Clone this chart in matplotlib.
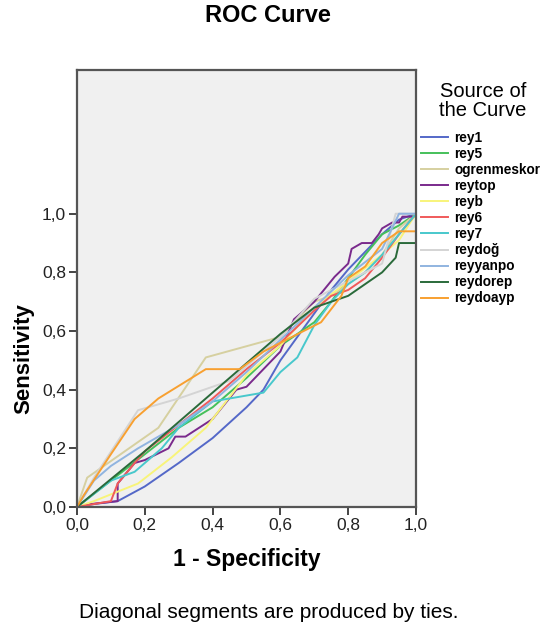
import matplotlib
matplotlib.use("Agg")
import matplotlib.pyplot as plt
from matplotlib.ticker import FuncFormatter

plt.rcParams['font.family'] = ['Liberation Sans', 'DejaVu Sans']

names = ["rey1", "rey5", "ogrenmeskor", "reytop", "reyb", "rey6", "rey7",
         "reydoğ", "reyyanpo", "reydorep", "reydoayp"]
colors = ["#5468c8", "#45c05a", "#d6d0a0", "#7a2a8c", "#f8f47a", "#f05a5a",
          "#48c8cc", "#d4d4d4", "#90b4e0", "#2a6a3a", "#f8a030"]

rey1_x = [0, 0.05, 0.12, 0.2, 0.3, 0.4, 0.5, 0.55, 0.6, 0.65, 0.7, 0.75, 0.8, 0.85, 0.9, 0.95, 1.0]
rey1_y = [0, 0.01, 0.02, 0.07, 0.15, 0.235, 0.34, 0.40, 0.50, 0.58, 0.66, 0.74, 0.81, 0.87, 0.93, 0.98, 1.0]

rey5_x = [0, 0.1, 0.2, 0.3, 0.4, 0.5, 0.6, 0.7, 0.75, 0.8, 0.85, 0.9, 0.95, 1.0]
rey5_y = [0, 0.09, 0.18, 0.27, 0.34, 0.44, 0.55, 0.63, 0.70, 0.78, 0.86, 0.93, 0.96, 1.0]

ogren_x = [0, 0.03, 0.24, 0.38, 0.6, 0.7, 0.75, 0.85, 0.9, 0.95, 1.0]
ogren_y = [0, 0.10, 0.27, 0.51, 0.58, 0.70, 0.72, 0.80, 0.86, 0.95, 1.0]

reytop_x = [0, 0.04, 0.12, 0.12, 0.17, 0.2, 0.27, 0.29, 0.32, 0.4, 0.47, 0.5, 0.6, 0.64, 0.7, 0.76,
            0.8, 0.81, 0.84, 0.87, 0.89, 0.9, 0.93, 0.95, 0.96, 1.0]
reytop_y = [0, 0.01, 0.02, 0.08, 0.15, 0.16, 0.20, 0.24, 0.24, 0.30, 0.40, 0.41, 0.53, 0.64, 0.70, 0.785,
            0.83, 0.88, 0.90, 0.90, 0.93, 0.95, 0.97, 0.97, 0.99, 0.99]

reyb_x = [0, 0.05, 0.18, 0.28, 0.38, 0.5, 0.6, 0.7, 0.8, 0.9, 0.95, 1.0]
reyb_y = [0, 0.02, 0.08, 0.17, 0.27, 0.45, 0.55, 0.68, 0.77, 0.86, 0.91, 1.0]

rey6_x = [0, 0.05, 0.1, 0.12, 0.17, 0.2, 0.3, 0.4, 0.5, 0.6, 0.7, 0.75, 0.8, 0.85, 0.9, 0.95, 1.0]
rey6_y = [0, 0.01, 0.02, 0.08, 0.15, 0.19, 0.28, 0.37, 0.47, 0.56, 0.67, 0.72, 0.74, 0.78, 0.85, 0.93, 1.0]

rey7_x = [0, 0.1, 0.17, 0.25, 0.3, 0.4, 0.5, 0.55, 0.6, 0.65, 0.7, 0.75, 0.8, 0.85, 0.9, 0.95, 1.0]
rey7_y = [0, 0.09, 0.12, 0.20, 0.27, 0.36, 0.38, 0.39, 0.46, 0.51, 0.62, 0.70, 0.76, 0.80, 0.86, 0.93, 1.0]

reydog_x = [0, 0.05, 0.18, 0.3, 0.45, 0.5, 0.6, 0.7, 0.8, 0.9, 0.94, 1.0]
reydog_y = [0, 0.10, 0.33, 0.37, 0.43, 0.48, 0.58, 0.71, 0.77, 0.83, 1.0, 1.0]

reyyanpo_x = [0, 0.05, 0.1, 0.18, 0.3, 0.4, 0.5, 0.6, 0.7, 0.8, 0.9, 0.95, 1.0]
reyyanpo_y = [0, 0.09, 0.14, 0.20, 0.28, 0.36, 0.46, 0.57, 0.68, 0.79, 0.88, 1.0, 1.0]

reydorep_x = [0, 0.2, 0.4, 0.6, 0.7, 0.8, 0.9, 0.94, 0.95, 1.0, 1.0]
reydorep_y = [0, 0.19, 0.39, 0.59, 0.68, 0.72, 0.80, 0.85, 0.90, 0.90, 1.0]

reydoayp_x = [0, 0.02, 0.1, 0.17, 0.24, 0.38, 0.48, 0.55, 0.6, 0.72, 0.78, 0.8, 0.85, 0.9, 0.95, 1.0, 1.0]
reydoayp_y = [0, 0.04, 0.18, 0.30, 0.37, 0.47, 0.47, 0.53, 0.56, 0.63, 0.72, 0.78, 0.82, 0.90, 0.94, 0.94, 1.0]

series = [(rey1_x, rey1_y), (rey5_x, rey5_y), (ogren_x, ogren_y), (reytop_x, reytop_y),
          (reyb_x, reyb_y), (rey6_x, rey6_y), (rey7_x, rey7_y), (reydog_x, reydog_y),
          (reyyanpo_x, reyyanpo_y), (reydorep_x, reydorep_y), (reydoayp_x, reydoayp_y)]

xticks = [0, 0.2, 0.4, 0.6, 0.8, 1.0]
yticks = [0, 0.2, 0.4, 0.6, 0.8, 1.0]

fig = plt.figure(figsize=(5.44, 6.32), dpi=100)
ax = fig.add_axes([77/544, 1-507/632, (416-77)/544, (507-70)/632])
ax.set_facecolor("#f0f0f0")

lines = []
for (x, y), c, n in zip(series, colors, names):
    l, = ax.plot(x, y, color=c, lw=1.4, label=n)
    lines.append(l)

ax.set_xlim(0, 1.0)
ax.set_ylim(0, 1.49)
ax.set_xticks(xticks)
ax.set_yticks(yticks)
fmt = FuncFormatter(lambda v, p: f"{v:.1f}".replace(".", ","))
ax.xaxis.set_major_formatter(fmt)
ax.yaxis.set_major_formatter(fmt)
ax.tick_params(axis='both', labelsize=12.5, length=6, width=1.4, color="#444444",
               labelcolor="#222222", pad=2)
for s in ax.spines.values():
    s.set_color("#555555")
    s.set_linewidth(1.6)

fig.text(268/544, 1-15/632, "ROC Curve", ha="center", va="center", fontsize=17, fontweight="bold")
ax.set_xlabel("1 - Specificity", fontsize=16.5, fontweight="bold")
ax.xaxis.set_label_coords(0.5, -(548-507)/437, transform=ax.transAxes)
ax.set_ylabel("Sensitivity", fontsize=16, fontweight="bold")
ax.yaxis.set_label_coords(-(77-34)/339, (507-359)/437, transform=ax.transAxes)
fig.text(269/544, 1-612/632, "Diagonal segments are produced by ties.", ha="center", va="center",
         fontsize=15)

fig.text(483/544, 1-101/632, "Source of\nthe Curve", ha="center", va="center", fontsize=14.5,
         linespacing=0.95)

leg = fig.legend(handles=lines, labels=names, loc="upper left", bbox_to_anchor=(421/544, 1-131/632),
                 frameon=False, prop={"size": 9.8, "weight": "bold"},
                 handlelength=1.95, labelspacing=0.15, handletextpad=0.5,
                 borderaxespad=0, borderpad=0)

fig.savefig("out.png", dpi=100)
